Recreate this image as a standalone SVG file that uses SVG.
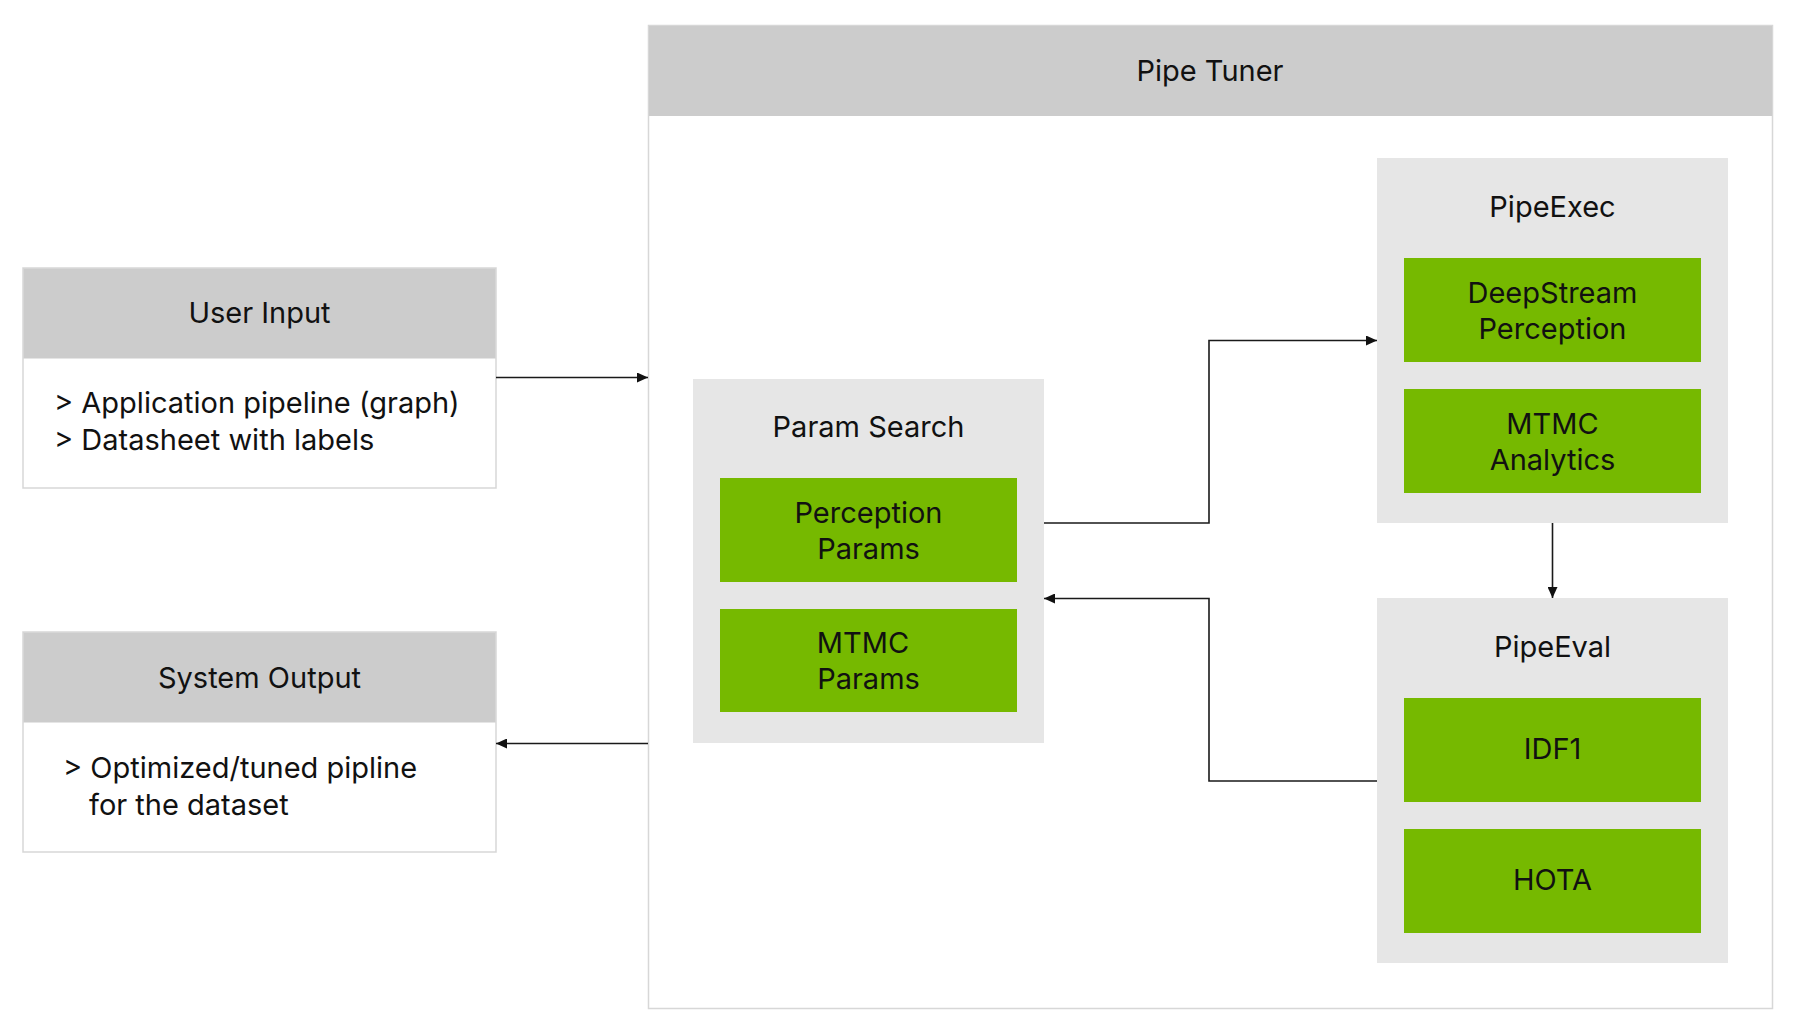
<svg xmlns="http://www.w3.org/2000/svg" width="1799" height="1026" viewBox="0 0 1799 1026">
  <style>
    .t { font-family: Inter, "Noto Sans", "Liberation Sans", sans-serif; font-size: 29px; fill: #111; }
    .c { text-anchor: middle; }
    .frame { fill: #ffffff; stroke: #d7d7d7; stroke-width: 1.5; }
    .head { fill: #cccccc; }
    .panel { fill: #e6e6e6; }
    .green { fill: #76b900; }
    .conn { fill: none; stroke: #1a1a1a; stroke-width: 1.6; }
  </style>
  <defs>
    <marker id="arr" markerUnits="userSpaceOnUse" markerWidth="12" markerHeight="10" refX="11" refY="5" orient="auto">
      <path d="M0,0 L11,5 L0,10 z" fill="#111"/>
    </marker>
  </defs>
  <rect width="1799" height="1026" fill="#ffffff"/>

  <g id="pipe-tuner">
    <rect class="frame" x="648.5" y="25.5" width="1124" height="983"/>
    <rect class="head" x="649" y="26" width="1123" height="90"/>
    <text class="t c" x="1210" y="81">Pipe Tuner</text>
  </g>

  <g id="user-input">
    <rect class="frame" x="23" y="268" width="473" height="220"/>
    <rect class="head" x="23.5" y="268.5" width="472" height="90"/>
    <text class="t c" x="259.5" y="323">User Input</text>
    <text class="t" x="54" y="413">&gt; Application pipeline (graph)</text>
    <text class="t" x="54" y="450">&gt; Datasheet with labels</text>
  </g>

  <g id="system-output">
    <rect class="frame" x="23" y="632" width="473" height="220"/>
    <rect class="head" x="23.5" y="632.5" width="472" height="90"/>
    <text class="t c" x="259.5" y="688">System Output</text>
    <text class="t" x="63" y="778">&gt; Optimized/tuned pipline</text>
    <text class="t" x="89" y="815">for the dataset</text>
  </g>

  <g id="param-search">
    <rect class="panel" x="693" y="379" width="351" height="364"/>
    <text class="t c" x="868.5" y="437">Param Search</text>
    <g id="perception-params">
      <rect class="green" x="720" y="478" width="297" height="104"/>
      <text class="t c" x="868.5" y="523">Perception</text>
      <text class="t c" x="868.5" y="559">Params</text>
    </g>
    <g id="mtmc-params">
      <rect class="green" x="720" y="609" width="297" height="103"/>
      <text class="t c" x="863" y="653">MTMC</text>
      <text class="t c" x="868.5" y="689">Params</text>
    </g>
  </g>

  <g id="pipe-exec">
    <rect class="panel" x="1377" y="158" width="351" height="365"/>
    <text class="t c" x="1552.5" y="217">PipeExec</text>
    <g id="deepstream-perception">
      <rect class="green" x="1404" y="258" width="297" height="104"/>
      <text class="t c" x="1552.5" y="303">DeepStream</text>
      <text class="t c" x="1552.5" y="339">Perception</text>
    </g>
    <g id="mtmc-analytics">
      <rect class="green" x="1404" y="389" width="297" height="104"/>
      <text class="t c" x="1552.5" y="434">MTMC</text>
      <text class="t c" x="1552.5" y="470">Analytics</text>
    </g>
  </g>

  <g id="pipe-eval">
    <rect class="panel" x="1377" y="598" width="351" height="365"/>
    <text class="t c" x="1552.5" y="657">PipeEval</text>
    <g id="idf1">
      <rect class="green" x="1404" y="698" width="297" height="104"/>
      <text class="t c" x="1552.5" y="759">IDF1</text>
    </g>
    <g id="hota">
      <rect class="green" x="1404" y="829" width="297" height="104"/>
      <text class="t c" x="1552.5" y="890">HOTA</text>
    </g>
  </g>

  <g id="connectors">
    <path class="conn" d="M496,377.5 H648" marker-end="url(#arr)"/>
    <path class="conn" d="M648,743.5 H496" marker-end="url(#arr)"/>
    <path class="conn" d="M1044,523 H1209 V340.5 H1377" marker-end="url(#arr)"/>
    <path class="conn" d="M1552.5,523 V598" marker-end="url(#arr)"/>
    <path class="conn" d="M1377,781 H1209 V598.5 H1044" marker-end="url(#arr)"/>
  </g>
</svg>
